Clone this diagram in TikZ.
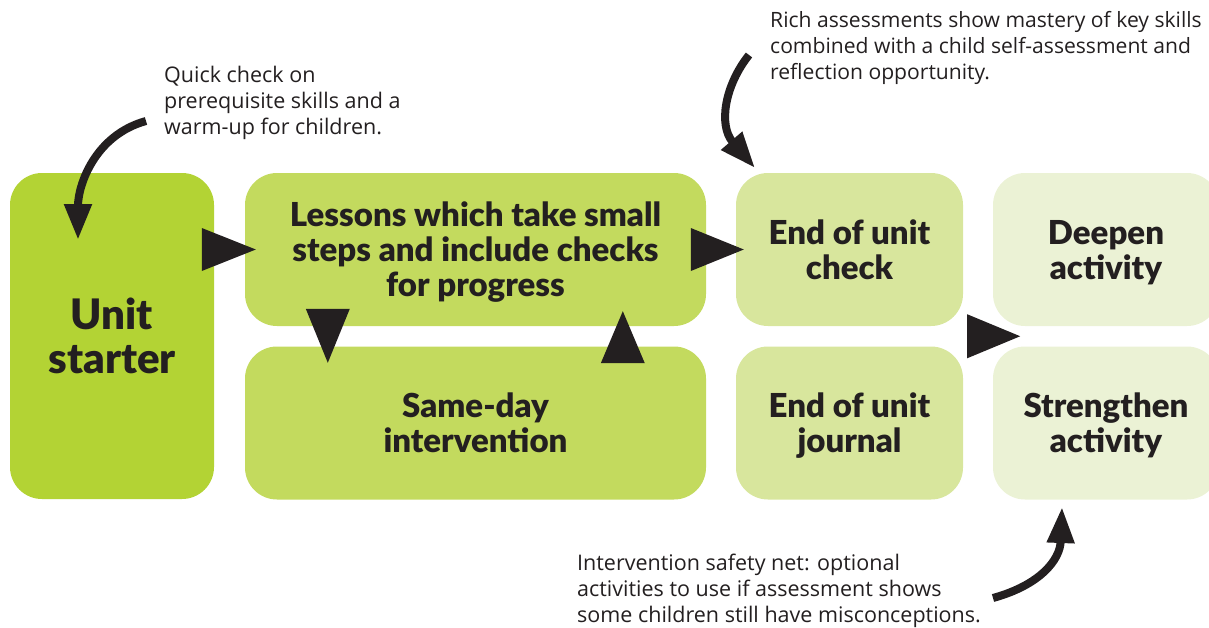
\documentclass[tikz,border=0pt]{standalone}
\usepackage{fontspec}
\setmainfont{Open Sans}
\newfontfamily\headfont{Lato Black}
\usetikzlibrary{arrows.meta,calc}
\definecolor{ink}{HTML}{231F20}
\definecolor{cA}{HTML}{B3D334}
\definecolor{cB}{HTML}{C3DA5E}
\definecolor{cC}{HTML}{D8E69D}
\definecolor{cD}{HTML}{EBF2D5}
\begin{document}
\begin{tikzpicture}[x=1pt,y=-1pt,
  box/.style={rounded corners=32pt, inner sep=0pt, align=center, text=ink,
    text depth=0pt, font=\headfont\fontsize{33}{35}\selectfont},
  bigbox/.style={box, font=\headfont\fontsize{42}{44}\selectfont},
  note/.style={anchor=north west, align=left, inner sep=0pt, text=ink,
    font=\fontsize{21.5}{26}\selectfont},
  curvy/.style={draw=ink, line width=8pt, -{Triangle[length=36pt,width=26pt]}},
  tri/.style={fill=ink}
]
\useasboundingbox (0,0) rectangle (1209,627);
\clip (0,0) rectangle (1209,627);

% boxes
\node[bigbox, fill=cA, minimum width=204pt, minimum height=326pt] (us) at (112,336) {Unit\\starter};
\node[box, fill=cB, minimum width=461pt, minimum height=153pt] (les) at (475.5,249.5) {Lessons which take small\\steps and include checks\\for progress};
\node[box, fill=cB, minimum width=461pt, minimum height=153pt] (sd) at (475.5,423) {Same-day\\intervention};
\node[box, fill=cC, minimum width=227pt, minimum height=153pt] (ec) at (849.5,249.5) {End of unit\\check};
\node[box, fill=cC, minimum width=227pt, minimum height=153pt] (ej) at (849.5,423) {End of unit\\journal};
\node[box, fill=cD, minimum width=226pt, minimum height=153pt] (dp) at (1106,249.5) {Deepen\\activity};
\node[box, fill=cD, minimum width=226pt, minimum height=153pt] (stg) at (1106,423) {Strengthen\\activity};

% notes
\node[note] (n1) at (164,66) {Quick check on\\prerequisite skills and a\\warm-up for children.};
\node[note, font=\fontsize{21.1}{26}\selectfont] (n2) at (770,11) {Rich assessments show mastery of key skills\\combined with a child self-assessment and\\reflection opportunity.};
\node[note] (n3) at (577,554) {Intervention safety net: optional\\activities to use if assessment shows\\some children still have misconceptions.};

% curved arrows
\coordinate (a1s) at (146,121);
\coordinate (a1e) at (78,240);
\draw[curvy] (a1s) .. controls (95,135) and (78,185) .. (a1e);
\coordinate (a2s) at (749,55);
\coordinate (a2e) at (755,168);
\draw[curvy] (a2s) .. controls (725,85) and (718,125) .. (a2e);
\coordinate (a3s) at (993,598);
\coordinate (a3e) at (1062,507);
\draw[curvy] (a3s) .. controls (1040,585) and (1060,560) .. (a3e);

% straight triangles
\fill[tri] ($(les.west)+(11,0)$) -- ++(-54,-21.5) -- ++(0,43) -- cycle;
\fill[tri] ($(ec.west)+(8,0)$) -- ++(-53,-21.5) -- ++(0,43) -- cycle;
\fill[tri] ($(sd.north west)+(83,16.5)$) -- ++(-22,-54) -- ++(44,0) -- cycle;
\fill[tri] ($(les.south west)+(378,-15)$) -- ++(-22,52) -- ++(44,0) -- cycle;
\fill[tri] ($(ec.south east)!0.5!(ej.north east)+(57,0)$) -- ++(-53,-22) -- ++(0,44) -- cycle;
\end{tikzpicture}
\end{document}
